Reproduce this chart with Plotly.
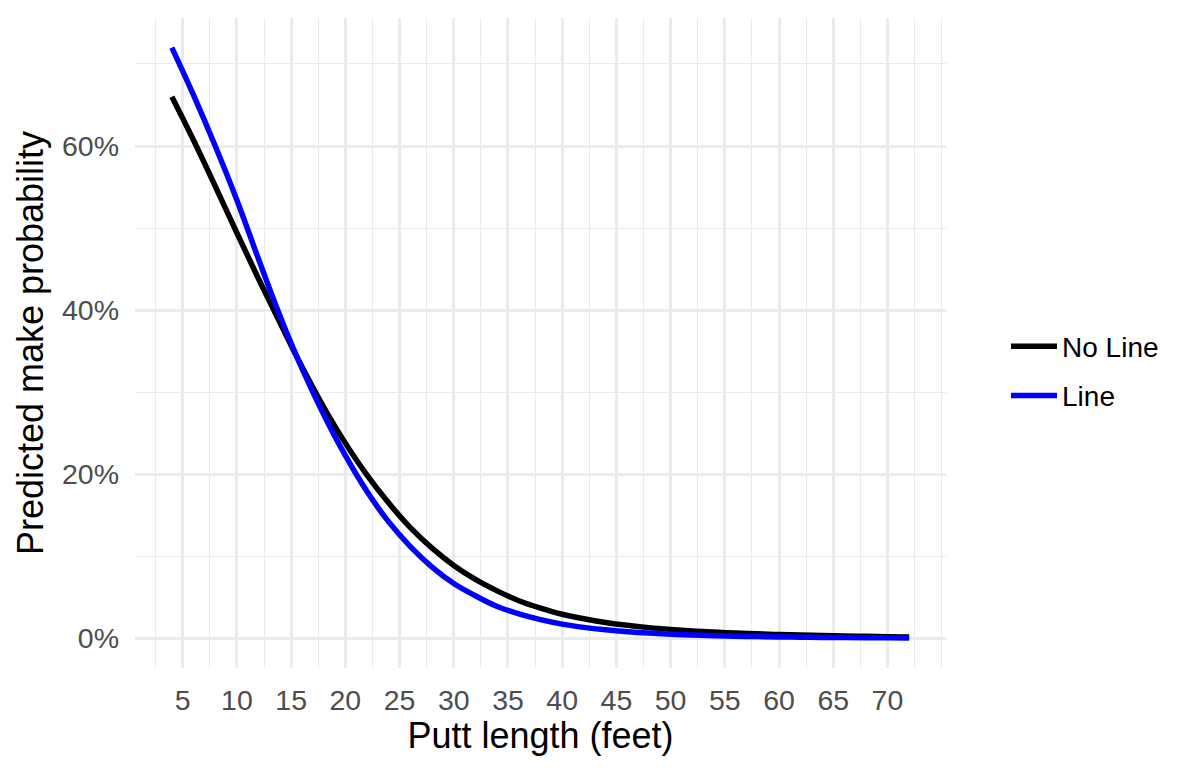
import plotly.graph_objects as go

putt_length = [4, 6, 8, 10, 12, 14, 16, 18, 20, 22, 24, 26, 28, 30, 32, 34, 36, 38,
               40, 42, 44, 46, 48, 50, 52, 54, 56, 58, 60, 62, 64, 66, 68, 70, 72]
no_line = [66.0, 60.7, 55.1, 49.4, 43.8, 38.4, 33.1, 28.2, 23.8, 19.9, 16.5, 13.5,
           11.0, 8.9, 7.2, 5.8, 4.6, 3.7, 2.95, 2.4, 1.95, 1.6, 1.32, 1.1, 0.92,
           0.78, 0.66, 0.56, 0.48, 0.41, 0.35, 0.30, 0.26, 0.22, 0.19]
line = [72.0, 66.2, 60.0, 53.4, 46.2, 39.2, 32.9, 27.3, 22.3, 17.9, 14.2, 11.2,
        8.7, 6.7, 5.2, 3.9, 3.0, 2.3, 1.75, 1.35, 1.05, 0.82, 0.65, 0.52, 0.42,
        0.34, 0.28, 0.23, 0.19, 0.16, 0.13, 0.11, 0.09, 0.075, 0.06]

x_ticks = [5, 10, 15, 20, 25, 30, 35, 40, 45, 50, 55, 60, 65, 70]
x_minor = [2.5, 7.5, 12.5, 17.5, 22.5, 27.5, 32.5, 37.5, 42.5, 47.5, 52.5, 57.5,
           62.5, 67.5, 72.5, 75]
y_ticks = [0, 20, 40, 60]
y_labels = ["0%", "20%", "40%", "60%"]
y_minor = [10, 30, 50, 70]

FONT = "Liberation Sans, Arial, sans-serif"
GRID = "#EBEBEB"

fig = go.Figure()
fig.add_trace(go.Scatter(x=putt_length, y=no_line, mode="lines", name="No Line",
                         line=dict(color="black", width=5.5, shape="spline"),
                         legendgroup="a"))
fig.add_trace(go.Scatter(x=putt_length, y=line, mode="lines", name="Line",
                         line=dict(color="blue", width=5.5, shape="spline"),
                         legendgroup="b"))

fig.update_layout(
    width=1200, height=774,
    margin=dict(l=135, r=254, t=18, b=106),
    paper_bgcolor="white", plot_bgcolor="white",
    font=dict(family=FONT, size=28, color="black"),
    legend=dict(x=1.074, xanchor="left", y=0.457, yanchor="middle",
                font=dict(size=28, color="black"), tracegroupgap=10,
                itemwidth=46, bgcolor="rgba(0,0,0,0)"),
    xaxis=dict(
        range=[0.6, 75.4], tickmode="array", tickvals=x_ticks,
        showgrid=True, gridcolor=GRID, gridwidth=2.6, zeroline=False,
        showline=False, ticks="", ticklabelstandoff=12,
        tickfont=dict(size=28.5, color="#4D4D4D", family=FONT),
        minor=dict(tickmode="array", tickvals=x_minor, showgrid=True,
                   gridcolor=GRID, gridwidth=1.4, ticks=""),
        title=dict(text="Putt length (feet)", standoff=7,
                   font=dict(size=36, color="black", family=FONT)),
    ),
    yaxis=dict(
        range=[-3.6, 75.6], tickmode="array", tickvals=y_ticks, ticktext=y_labels,
        showgrid=True, gridcolor=GRID, gridwidth=2.6, zeroline=False,
        showline=False, ticks="", ticklabelstandoff=15,
        tickfont=dict(size=28.5, color="#4D4D4D", family=FONT),
        minor=dict(tickmode="array", tickvals=y_minor, showgrid=True,
                   gridcolor=GRID, gridwidth=1.4, ticks=""),
        title=dict(text="Predicted make probability", standoff=7,
                   font=dict(size=36, color="black", family=FONT)),
    ),
)

fig.write_html("out.html")
